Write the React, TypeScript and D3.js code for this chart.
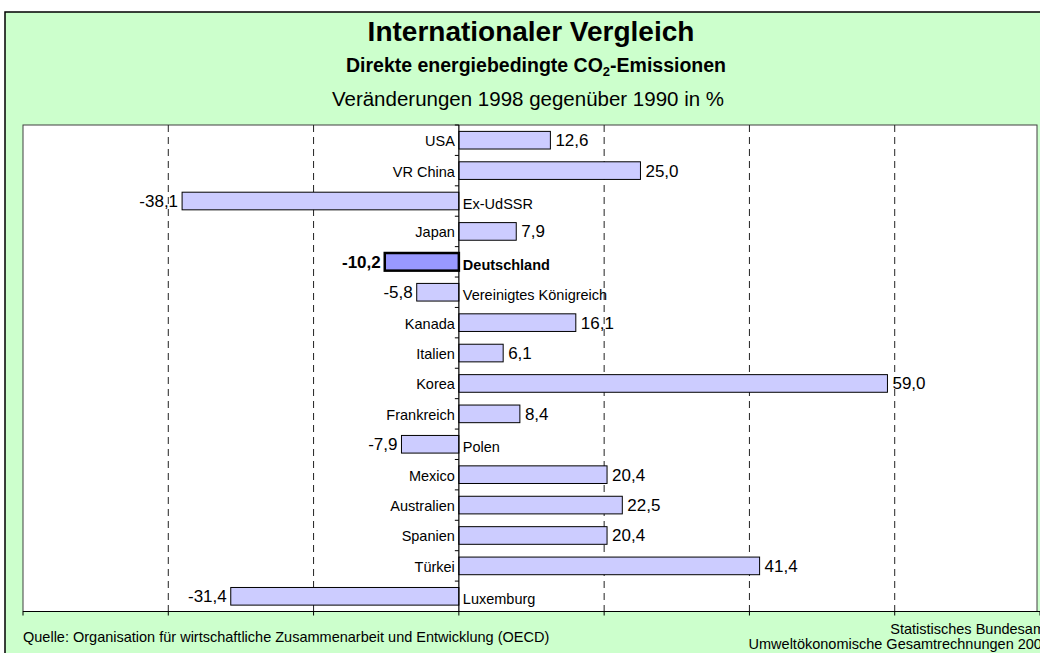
import React from 'react';
import * as d3 from 'd3';

// Values (change 1998 vs 1990 in %)
const countries = [
  'USA', 'VR China', 'Ex-UdSSR', 'Japan', 'Deutschland', 'Vereinigtes Königreich',
  'Kanada', 'Italien', 'Korea', 'Frankreich', 'Polen', 'Mexico', 'Australien',
  'Spanien', 'Türkei', 'Luxemburg',
];
const changes = [12.6, 25.0, -38.1, 7.9, -10.2, -5.8, 16.1, 6.1, 59.0, 8.4, -7.9, 20.4, 22.5, 20.4, 41.4, -31.4];
const xTicks = [-60, -40, -20, 0, 20, 40, 60, 80];
const highlight = 'Deutschland';

const W = 1040;
const H = 653;
const plot = { left: 23, right: 1037, top: 125, bottom: 611.5 };
const font = 'Arial, "Liberation Sans", sans-serif';

// German decimal comma, plain hyphen for minus
const fmt = (v: number) => d3.format('.1f')(v).replace('.', ',').replace('\u2212', '-');

export default function App() {
  const x = d3.scaleLinear().domain([-60, 80]).range([plot.left, 1040]);
  const y = d3.scaleBand<string>().domain(countries).range([plot.top, plot.bottom]).paddingInner(0.42).paddingOuter(0.21);
  const step = y.step();
  const x0 = x(0);
  const rows = countries.map((c, i) => ({ c, v: changes[i] }));

  return (
    <svg width={W} height={H} style={{ position: 'absolute', left: 0, top: 0, display: 'block' }} fontFamily={font}>
      <rect x={0} y={0} width={W} height={H} fill="#fff" />
      {/* chart area */}
      <rect x={5} y={12} width={W} height={H} fill="#CCFFCC" stroke="#000" strokeWidth={1.5} />

      <text x={531} y={41} textAnchor="middle" fontSize={28} fontWeight="bold">Internationaler Vergleich</text>
      <text x={536} y={72} textAnchor="middle" fontSize={19.5} fontWeight="bold">
        Direkte energiebedingte CO<tspan fontSize={13} dy={4}>2</tspan><tspan dy={-4}>-Emissionen</tspan>
      </text>
      <text x={528} y={106} textAnchor="middle" fontSize={20.5}>Veränderungen 1998 gegenüber 1990 in %</text>

      {/* plot area */}
      <rect x={plot.left} y={plot.top} width={plot.right - plot.left} height={plot.bottom - plot.top} fill="#fff" stroke="#404040" strokeWidth={1} />

      {xTicks.filter((t) => t !== 0 && t > -60 && t < 80).map((t) => (
        <line key={t} x1={x(t)} x2={x(t)} y1={plot.top} y2={plot.bottom} stroke="#222" strokeDasharray="7,5" />
      ))}

      {/* x axis */}
      <line x1={plot.left} x2={W} y1={plot.bottom} y2={plot.bottom} stroke="#000" strokeWidth={1.2} />
      {xTicks.map((t) => (
        <line key={t} x1={x(t)} x2={x(t)} y1={plot.bottom} y2={plot.bottom + 4} stroke="#000" />
      ))}

      {/* bars */}
      {rows.map(({ c, v }) => {
        const hl = c === highlight;
        const by = y(c) as number;
        return (
          <rect key={c} x={Math.min(x(v), x0)} y={by} width={Math.abs(x(v) - x0)} height={y.bandwidth()}
            fill={hl ? '#9999FF' : '#CCCCFF'} stroke="#000" strokeWidth={hl ? 2.5 : 1} />
        );
      })}

      {/* zero line with category ticks */}
      <line x1={x0} x2={x0} y1={plot.top} y2={plot.bottom} stroke="#000" strokeWidth={1.2} />
      {d3.range(countries.length + 1).map((i) => (
        <line key={i} x1={x0 - 4} x2={x0} y1={plot.top + i * step} y2={plot.top + i * step} stroke="#000" />
      ))}

      {/* labels */}
      {rows.map(({ c, v }) => {
        const hl = c === highlight;
        const cy = (y(c) as number) + y.bandwidth() / 2;
        const neg = v < 0;
        return (
          <g key={c} fontWeight={hl ? 'bold' : 'normal'}>
            <text x={neg ? x0 + 4 : x0 - 4} y={cy + (neg ? 8 : 6)} textAnchor={neg ? 'start' : 'end'} fontSize={14.5}>{c}</text>
            <text x={neg ? x(v) - 4 : x(v) + 5} y={cy + 6} textAnchor={neg ? 'end' : 'start'} fontSize={17}>{fmt(v)}</text>
          </g>
        );
      })}

      {/* footer */}
      <text x={23} y={642} fontSize={14.5}>Quelle: Organisation für wirtschaftliche Zusammenarbeit und Entwicklung (OECD)</text>
      <text x={1049} y={634} textAnchor="end" fontSize={14.5}>Statistisches Bundesamt</text>
      <text x={1050} y={649} textAnchor="end" fontSize={14.5}>Umweltökonomische Gesamtrechnungen 2001</text>
    </svg>
  );
}
